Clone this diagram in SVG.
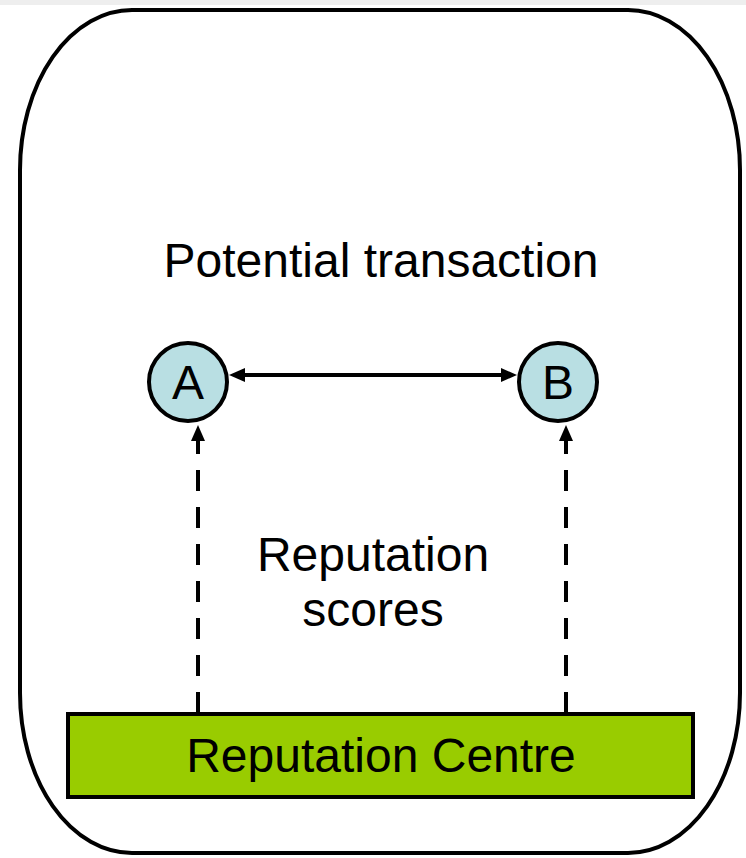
<svg xmlns="http://www.w3.org/2000/svg" width="746" height="858" viewBox="0 0 746 858">
<defs>
<style>
.t{font-family:"Liberation Sans",Arial,sans-serif;font-size:48px;fill:#000;text-anchor:middle}
.node{stroke:#000;stroke-width:4}
.c{fill:none;stroke:#000;stroke-width:4}
.d{stroke-dasharray:21,16}
</style>
<marker id="ah" viewBox="0 0 16 14" refX="8" refY="7" markerWidth="16" markerHeight="14" orient="auto-start-reverse" markerUnits="userSpaceOnUse">
<path d="M0,0 L16,7 L0,14 z" fill="#000"/>
</marker>
</defs>
<rect x="0" y="0" width="746" height="5" fill="#eeeeee"/>
<g id="frame">
<rect x="20" y="10" width="720" height="843" rx="112" ry="160" fill="#fff" stroke="#000" stroke-width="4"/>
</g>
<text class="t" x="381" y="277">Potential transaction</text>
<text class="t" x="373" y="571">Reputation</text>
<text class="t" x="373" y="626">scores</text>
<g id="connectors">
<line class="c" x1="237" y1="375" x2="509" y2="375" marker-start="url(#ah)" marker-end="url(#ah)"/>
<line class="c d" x1="198" y1="713" x2="198" y2="433" marker-end="url(#ah)"/>
<line class="c d" x1="566" y1="713" x2="566" y2="433" marker-end="url(#ah)"/>
</g>
<g id="A">
<circle class="node" cx="188" cy="382" r="39" fill="#b9dfe3"/>
<text class="t" x="188" y="399">A</text>
</g>
<g id="B">
<circle class="node" cx="558" cy="382" r="39" fill="#b9dfe3"/>
<text class="t" x="558" y="399">B</text>
</g>
<g id="centre">
<rect class="node" x="68" y="714" width="625" height="83" fill="#99cc00"/>
<text class="t" x="381" y="772">Reputation Centre</text>
</g>
</svg>
